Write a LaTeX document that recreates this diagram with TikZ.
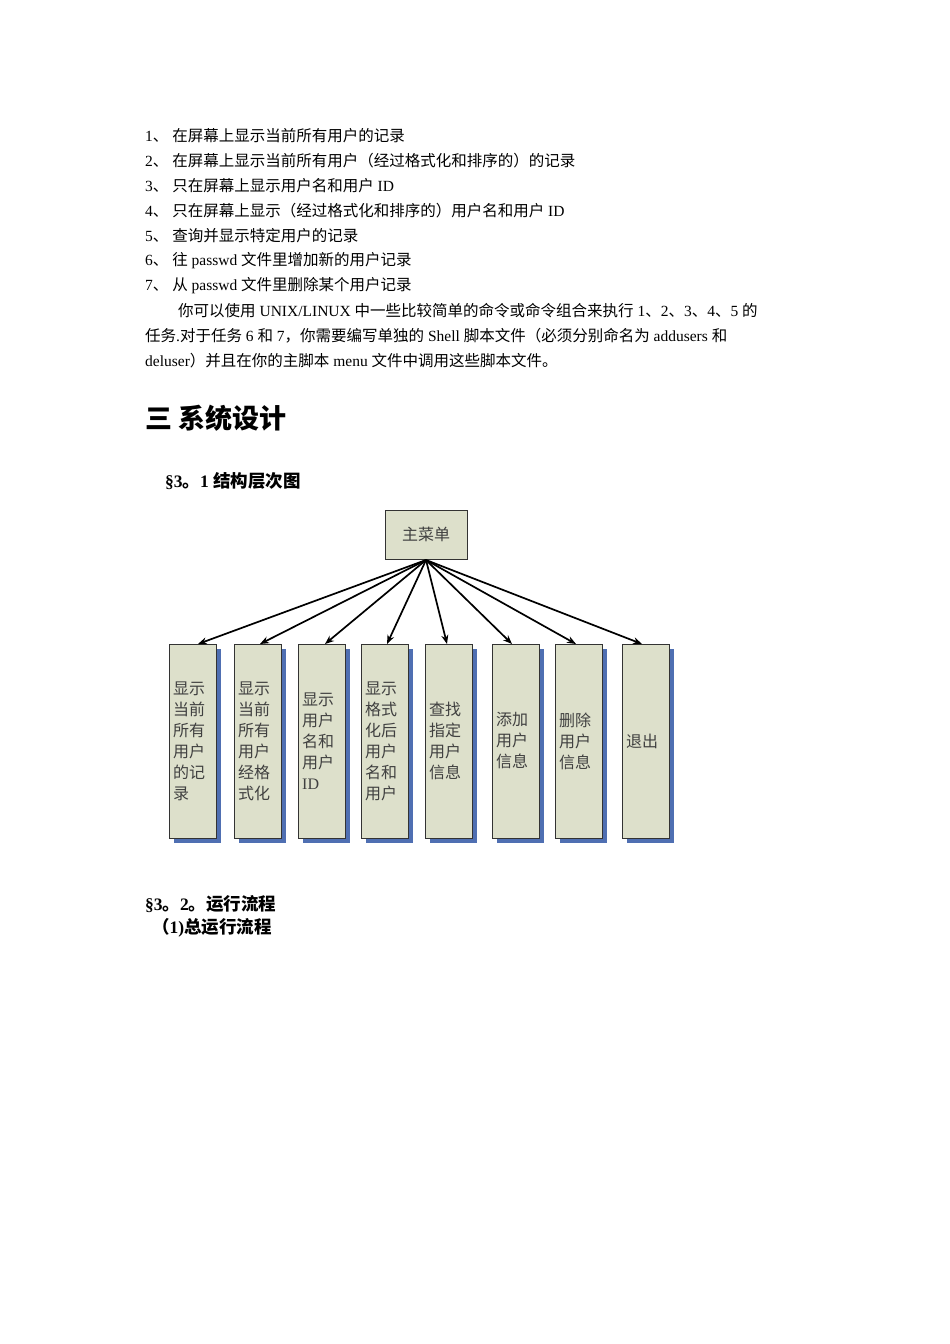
\documentclass[tikz,border=0pt]{standalone}
\usepackage{fontspec}
\setmainfont{Liberation Serif}
\newfontfamily\cjk{Noto Sans CJK SC}
\newcount\mycc
\def\setcjkrange#1#2{\mycc=#1\relax
  \loop\XeTeXcharclass\mycc=7\relax\ifnum\mycc<#2\advance\mycc by 1\repeat}
\setcjkrange{"4E00}{"9FFF}
\setcjkrange{"3000}{"303F}
\setcjkrange{"FF00}{"FFEF}
\XeTeXinterchartokenstate=1
\XeTeXinterchartoks 0 7 = {\cjk}
\XeTeXinterchartoks 4095 7 = {\cjk}
\XeTeXinterchartoks 7 0 = {\rmfamily}
\XeTeXinterchartoks 7 4095 = {\rmfamily}
\usetikzlibrary{arrows.meta}
\definecolor{boxfill}{RGB}{221,224,203}
\definecolor{shad}{RGB}{79,111,178}
\begin{document}
\begin{tikzpicture}[x=1pt,y=-1pt,
  body/.style={anchor=west,inner sep=0pt,font=\fontsize{15.5}{18}\selectfont},
  lbl/.style={anchor=west,inner sep=0pt,align=left,font=\fontsize{16}{21}\selectfont,text=black!75},
  arr/.style={-{Stealth[length=9pt,width=7pt]},line width=1.7pt}]
\useasboundingbox (0,0) rectangle (950,1344);
\fill[white] (0,0) rectangle (950,1344);
% text
\node[body] (l1) at (145,136) {1、 在屏幕上显示当前所有用户的记录};
\node[body] (l2) at (145,161) {2、 在屏幕上显示当前所有用户（经过格式化和排序的）的记录};
\node[body] (l3) at (145,186) {3、 只在屏幕上显示用户名和用户 ID};
\node[body] (l4) at (145,211) {4、 只在屏幕上显示（经过格式化和排序的）用户名和用户 ID};
\node[body] (l5) at (145,236) {5、 查询并显示特定用户的记录};
\node[body] (l6) at (145,261) {6、 往 passwd 文件里增加新的用户记录};
\node[body] (l7) at (145,286) {7、 从 passwd 文件里删除某个用户记录};
\node[body] (p1) at (178,311) {你可以使用 UNIX/LINUX 中一些比较简单的命令或命令组合来执行 1、2、3、4、5 的};
\node[body] (p2) at (145,336) {任务.对于任务 6 和 7，你需要编写单独的 Shell 脚本文件（必须分别命名为 addusers 和};
\node[body] (p3) at (145,361) {deluser）并且在你的主脚本 menu 文件中调用这些脚本文件。};
\node[anchor=west,inner sep=0pt,font=\fontsize{27}{30}\selectfont\bfseries] (h1) at (145,418) {三 系统设计};
\node[anchor=west,inner sep=0pt,font=\fontsize{17.5}{20}\selectfont\bfseries] (h2) at (165,481) {§3。1 结构层次图};
\node[anchor=west,inner sep=0pt,font=\fontsize{17.5}{20}\selectfont\bfseries] (h3) at (145,904) {§3。2。运行流程};
\node[anchor=west,inner sep=0pt,font=\fontsize{17.5}{20}\selectfont\bfseries] (h4) at (152,928) {（1)总运行流程};
% diagram
\draw[draw=black!80,fill=boxfill,line width=0.8pt] (385,510) rectangle (467,559);
\node[font=\fontsize{16}{18}\selectfont,text=black!75] (m) at (426,534.5) {主菜单};
\coordinate (o) at (426,560);
\foreach \i/\a/\t/\l in {1/169/198/{显示\\当前\\所有\\用户\\的记\\录},
  2/234/260/{显示\\当前\\所有\\用户\\经格\\式化},
  3/298/325/{显示\\用户\\名和\\用户\\ID},
  4/361/387/{显示\\格式\\化后\\用户\\名和\\用户},
  5/425/447/{查找\\指定\\用户\\信息},
  6/492/512/{添加\\用户\\信息},
  7/555/576/{删除\\用户\\信息},
  8/622/642/{退出}}{
  \fill[shad] (\a+5,649) rectangle (\a+52,843);
  \draw[draw=black!80,fill=boxfill,line width=0.8pt] (\a,644) rectangle (\a+47,838);
  \node[lbl] (b\i) at (\a+4,741) {\l};
  \coordinate (t\i) at (\t,644);
  \draw[arr] (o) -- (t\i);
}
\end{tikzpicture}
\end{document}
